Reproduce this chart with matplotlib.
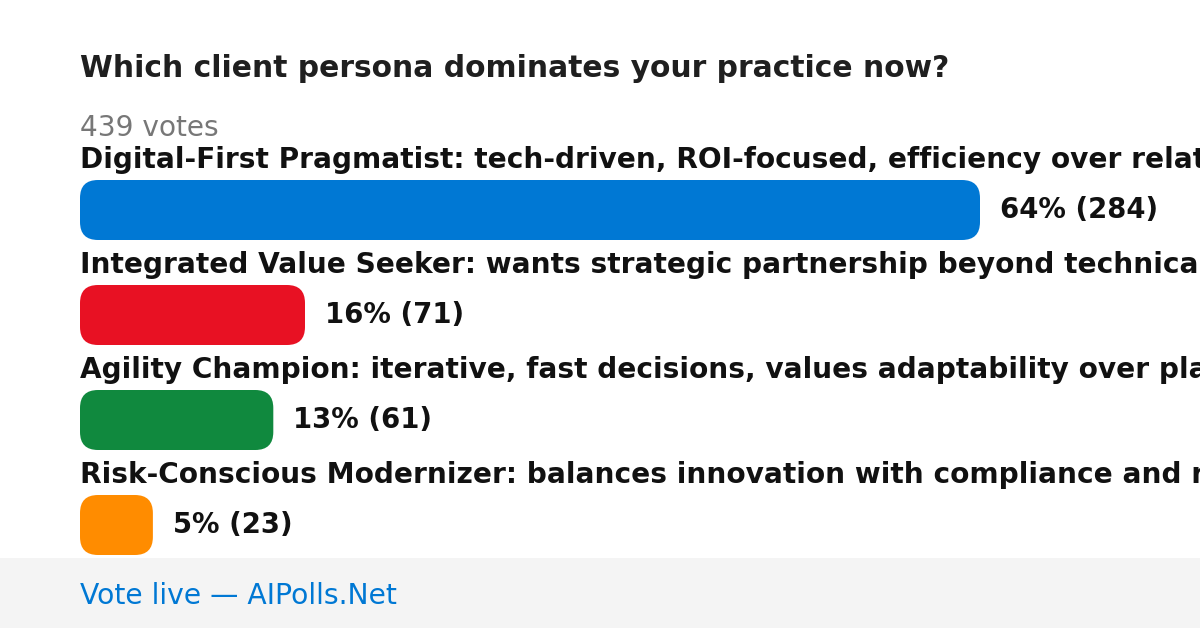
import matplotlib.pyplot as plt
from matplotlib.patches import FancyBboxPatch, Rectangle

plt.rcParams['font.family'] = ['DejaVu Sans']

# poll data
title = "Which client persona dominates your practice now?"
options = [
    "Digital-First Pragmatist: tech-driven, ROI-focused, efficiency over relationships",
    "Integrated Value Seeker: wants strategic partnership beyond technical delivery",
    "Agility Champion: iterative, fast decisions, values adaptability over planning",
    "Risk-Conscious Modernizer: balances innovation with compliance and risk",
]
votes = [284, 71, 61, 23]
colors = ["#0078D4", "#E81123", "#10893E", "#FF8C00"]
total = sum(votes)

W, H = 1200, 628
fig = plt.figure(figsize=(W / 100, H / 100), dpi=100)
ax = fig.add_axes([0, 0, 1, 1])
ax.set_xlim(0, W)
ax.set_ylim(H, 0)
ax.axis("off")

def px(p):
    # pixel size -> points
    return p * 72 / 100

left = 80
max_w = 900
bar_h = 60
top0 = 180
step = 105

ax.text(left, 77, title, fontsize=px(29.7), fontweight="bold", color="#1f1f1f", va="baseline")
ax.text(left, 136, f"{total} votes", fontsize=px(28), color="#777777", va="baseline")

for i, (name, v, c) in enumerate(zip(options, votes, colors)):
    y = top0 + i * step
    w = v / max(votes) * max_w
    ax.text(left, y - 12, name, fontsize=px(28), fontweight="bold", color="#111111", va="baseline")
    ax.add_patch(FancyBboxPatch((left, y), w, bar_h,
                                boxstyle="round,pad=0,rounding_size=18",
                                fc=c, ec="none"))
    pct = int(v * 100 // total)
    ax.text(left + w + 20, y + 38, f"{pct}% ({v})", fontsize=px(27.5), fontweight="bold",
            color="#111111", va="baseline")

# footer
ax.add_patch(Rectangle((0, 558), W, H - 558, fc="#f4f4f4", ec="none"))
ax.text(left, 604, "Vote live \u2014 AIPolls.Net", fontsize=px(28.3), color="#0078D4", va="baseline")

fig.savefig("out.png", dpi=100)
